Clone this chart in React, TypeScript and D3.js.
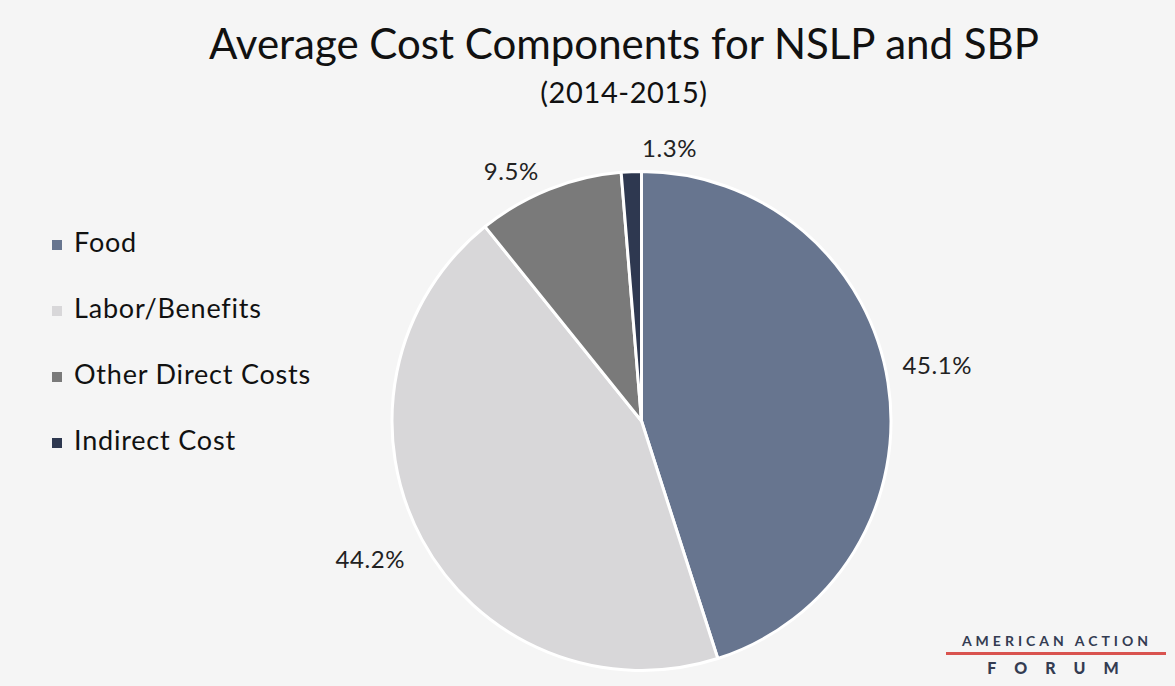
import React from 'react';
import * as d3 from 'd3';

const categories = ['Food', 'Labor/Benefits', 'Other Direct Costs', 'Indirect Cost'];
const values = [45.1, 44.2, 9.5, 1.3];
const colors = ['#67758f', '#d8d7d9', '#7a7a7a', '#2e3850'];
// label nudges so small-slice labels sit like the original
const labelNudge: [number, number][] = [[5, -8], [-12, 1], [-21, 26], [40, 24]];

const W = 1175;
const H = 686;
const FONT = 'Lato, "Open Sans", sans-serif';

export default function App() {
  const cx = 641.5;
  const cy = 421;
  const r = 249.5;

  const pie = d3.pie<number>().sort(null).value(d => d);
  const arcs = pie(values);
  const arc = d3.arc<d3.PieArcDatum<number>>().innerRadius(0).outerRadius(r);
  const labelArc = d3.arc<d3.PieArcDatum<number>>().innerRadius(r * 1.18).outerRadius(r * 1.18);

  const legendY = d3.scalePoint<string>().domain(categories).range([245, 443]);

  return (
    <svg width={W} height={H} style={{ position: 'absolute', left: 0, top: 0, background: '#f5f5f5' }}>
      <rect width={W} height={H} fill="#f5f5f5" />
      <text x={624} y={59} textAnchor="middle" fontFamily={FONT} fontSize={42} fill="#111">
        Average Cost Components for NSLP and SBP
      </text>
      <text x={624} y={103} textAnchor="middle" fontFamily={FONT} fontSize={29} letterSpacing={0.6} fill="#111">
        (2014-2015)
      </text>

      <g transform={`translate(${cx},${cy})`}>
        {arcs.map((a, i) => (
          <path key={i} d={arc(a) || ''} fill={colors[i]} stroke="#ffffff" strokeWidth={3} strokeLinejoin="round" />
        ))}
        {arcs.map((a, i) => {
          const [x, y] = labelArc.centroid(a);
          return (
            <text key={i} x={x + labelNudge[i][0]} y={y + labelNudge[i][1]} textAnchor="middle" dominantBaseline="middle"
              fontFamily={FONT} fontSize={24} letterSpacing={0.6} fill="#222">
              {values[i].toFixed(1)}%
            </text>
          );
        })}
      </g>

      <g>
        {categories.map((c, i) => (
          <g key={c} transform={`translate(52,${legendY(c)})`}>
            <rect x={0} y={-5} width={10} height={10} fill={colors[i]} />
            <text x={22} y={0} dominantBaseline="middle" fontFamily={FONT} fontSize={27} letterSpacing={0.8} fill="#111">{c}</text>
          </g>
        ))}
      </g>

      <g fontFamily={FONT} fill="#343c52">
        <text x={1057} y={646} textAnchor="middle" fontSize={14} fontWeight="bold" letterSpacing={4}>AMERICAN ACTION</text>
        <rect x={946} y={652} width={220} height={3} fill="#d9534f" />
        <text x={1062} y={674} textAnchor="middle" fontSize={16} fontWeight="900" letterSpacing={18}>FORUM</text>
      </g>
    </svg>
  );
}
